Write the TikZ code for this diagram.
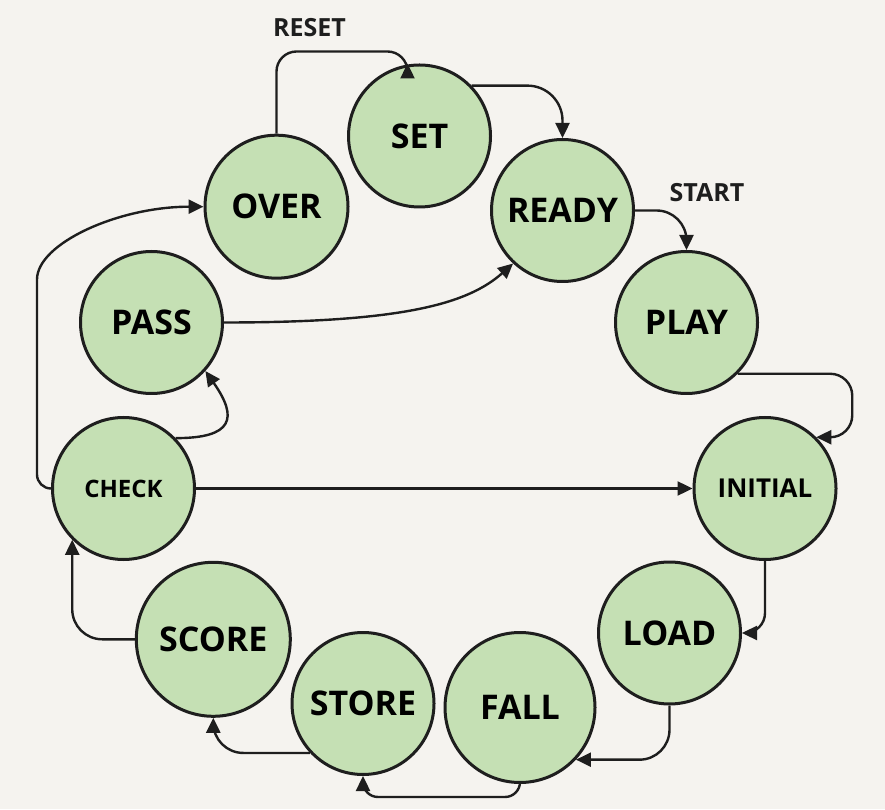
\documentclass[tikz,border=0pt]{standalone}
\usepackage{fontspec}
\setmainfont{Open Sans}
\usetikzlibrary{arrows.meta}

\definecolor{stategreen}{HTML}{C5E0B4}
\definecolor{paper}{HTML}{F5F3EF}
\definecolor{ink}{HTML}{1E1E1E}

\begin{document}
\begin{tikzpicture}[x = 1pt, y = 1pt,
	state/.style = {circle, draw = ink, line width = 3pt, fill = stategreen, minimum size = 142pt, inner sep = 0pt, font = \fontsize{34}{36}\selectfont\bfseries},
	flow/.style = {draw = ink, line width = 2.4pt, -{Triangle[length = 15pt, width = 14pt]}},
	tag/.style = {font = \fontsize{25}{27}\selectfont\bfseries, text = ink}]
	\fill[paper] (0, 0) rectangle (885, 809);
	\useasboundingbox (0, 0) rectangle (885, 809);
	
	\node[state] (set) at (419.5, 673) {SET};
	\node[state, minimum size = 143pt] (over) at (276.5, 602.3) {OVER};
	\node[state] (ready) at (562.5, 598.5) {READY};
	\node[state] (pass) at (151.5, 486.5) {PASS};
	\node[state] (play) at (686.5, 486.5) {PLAY};
	\node[state, font = \fontsize{24}{26}\selectfont\bfseries] (check) at (123.5, 320.5) {CHECK};
	\node[state, font = \fontsize{26}{28}\selectfont\bfseries] (initial) at (765, 320.5) {INITIAL};
	\node[state, minimum size = 154pt] (score) at (213.3, 169.7) {SCORE};
	\node[state] (load) at (669.5, 176) {LOAD};
	\node[state] (store) at (363, 105.5) {STORE};
	\node[state, minimum size = 150pt] (fall) at (520, 101.5) {FALL};
	
	\node[tag] (reset) at (309.5, 781.5) {RESET};
	\node[tag] (start) at (707, 616) {START};
	
	\draw[flow, rounded corners = 20pt] (over.north) |- ([xshift = -12pt, yshift = 12pt]set.north) [sharp corners] -- ([xshift = -12pt]set.north);
	\draw[flow, rounded corners = 35pt] (set.44) -| (ready.north);
	\draw[flow, rounded corners = 30pt] (ready.east) -| (play.north);
	\draw[flow, rounded corners = 22pt] (play.-45) -| ([xshift = 36pt]initial.45) -- (initial.45);
	\draw[flow] (check) -- (initial);
	\draw[flow, rounded corners = 20pt] (initial.south) |- (load.east);
	\draw[flow, rounded corners = 30pt] (load.south) |- (fall.-43);
	\draw[flow, rounded corners = 15pt] (fall.south) -- ++(0, -13) -| (store.south);
	\draw[flow, rounded corners = 30pt] (store.-137) -| (score.south);
	\draw[flow, rounded corners = 30pt] (score.west) -| (check.-135);
	\draw[flow, rounded corners = 14pt] (check.west) -- ++(-14, 0) -- ++(0, 195) .. controls +(0, 50) and +(-85, 0) .. (over.west);
	\draw[flow] (check.44) to[out = 0, in = -55, looseness = 2] (pass.-42);
	\draw[flow] (pass.east) .. controls +(180, 0) and +(-45, -40) .. (ready.227);
\end{tikzpicture}
\end{document}
